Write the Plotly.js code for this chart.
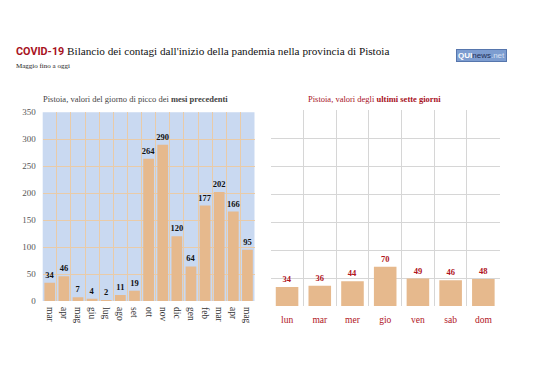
<!DOCTYPE html>
<html>
<head>
<meta charset="utf-8">
<script src="https://cdn.plot.ly/plotly-3.0.1.min.js"></script>
<style>html,body{margin:0;padding:0;background:#fff;}#chart{width:538px;height:380px;}</style>
</head>
<body>
<div id="chart"></div>
<script>
const monthLabels = ["mar","apr","mag","giu","lug","ago","set","ott","nov","dic","gen","feb","mar ","apr ","mag "];
const monthPeaks = [34,46,7,4,2,11,19,264,290,120,64,177,202,166,95];
const dayLabels = ["lun","mar","mer","gio","ven","sab","dom"];
const dayValues = [34,36,44,70,49,46,48];

const serif = "Liberation Serif, DejaVu Serif, serif";
const barColor = "#e6b98d";

const traces = [
  {
    type: "bar", x: monthLabels, y: monthPeaks, xaxis: "x", yaxis: "y",
    marker: {color: barColor}, width: 0.76,
    text: monthPeaks.map(String), textposition: "outside", cliponaxis: false, constraintext: "none",
    textfont: {family: serif, size: 8.5, color: "#111", weight: "bold"}, hoverinfo: "skip"
  },
  {
    type: "bar", x: dayLabels, y: dayValues, xaxis: "x2", yaxis: "y2",
    marker: {color: barColor}, width: 0.69,
    text: dayValues.map(String), textposition: "outside", cliponaxis: false, constraintext: "none",
    textfont: {family: serif, size: 8.5, color: "#b0141c", weight: "bold"}, hoverinfo: "skip"
  }
];

function py(px){ return 1 - px/380; }

const layout = {
  width: 538, height: 380,
  margin: {l:0, r:0, t:0, b:0},
  paper_bgcolor: "#ffffff",
  plot_bgcolor: "#ffffff",
  showlegend: false,
  bargap: 0.2,
  font: {family: serif, size: 8, color: "#444"},
  xaxis: {
    domain: [42.7/538, 254.5/538], anchor: "y", type: "category",
    tickson: "boundaries", showgrid: true, gridcolor: "#e9cba8", gridwidth: 1,
    tickangle: 90, ticks: "", ticklabelstandoff: 5, tickfont: {family: serif, size: 9.5, color: "#333"},
    showline: false, zeroline: false, fixedrange: true
  },
  yaxis: {
    domain: [py(301), py(112.3)], anchor: "x", range: [0, 350], dtick: 50,
    showgrid: true, gridcolor: "#e9cba8", gridwidth: 1, zeroline: false,
    ticks: "", ticklabelstandoff: 6, tickfont: {family: serif, size: 9, color: "#555"},
    showline: false, fixedrange: true
  },
  xaxis2: {
    domain: [270.7/538, 499.7/538], anchor: "y2", type: "category",
    tickson: "boundaries", showgrid: true, gridcolor: "#d6d6d6", gridwidth: 1,
    ticks: "", ticklabelstandoff: 6, tickfont: {family: serif, size: 9.5, color: "#b0141c"},
    showline: false, zeroline: false, fixedrange: true
  },
  yaxis2: {
    domain: [py(306), py(110)], anchor: "x2", range: [0, 350], dtick: 50,
    showgrid: true, gridcolor: "#d6d6d6", gridwidth: 1, zeroline: false,
    showticklabels: false, ticks: "", showline: false, fixedrange: true
  },
  shapes: [
    {type: "rect", xref: "x domain", yref: "y domain", x0: 0, x1: 1, y0: 0, y1: 1,
     fillcolor: "#c9d9f1", line: {width: 0}, layer: "below"}
  ],
  annotations: [
    {xref: "paper", yref: "paper", x: 14/538, y: py(52), xanchor: "left", yanchor: "middle",
     showarrow: false,
     text: "<span style=\"font-family:Roboto, sans-serif;font-weight:bold;color:#a8121e;font-size:10.8px\">COVID-19</span> Bilancio dei contagi dall'inizio della pandemia nella provincia di Pistoia",
     font: {family: serif, size: 11.2, color: "#111"}},
    {xref: "paper", yref: "paper", x: 14/538, y: py(66), xanchor: "left", yanchor: "middle",
     showarrow: false, text: "Maggio fino a oggi",
     font: {family: serif, size: 7, color: "#222"}},
    {xref: "paper", yref: "paper", x: 135/538, y: py(99), xanchor: "center", yanchor: "middle",
     showarrow: false, text: "Pistoia, valori del giorno di picco dei <b>mesi precedenti</b>",
     font: {family: serif, size: 8.5, color: "#444"}},
    {xref: "paper", yref: "paper", x: 374/538, y: py(99), xanchor: "center", yanchor: "middle",
     showarrow: false, text: "Pistoia, valori degli <b>ultimi sette giorni</b>",
     font: {family: serif, size: 8.5, color: "#a8121e"}},
    {xref: "paper", yref: "paper", x: 481/538, y: py(55), xanchor: "center", yanchor: "middle",
     showarrow: false, bgcolor: "#7d9dd0", bordercolor: "#5676ad", borderwidth: 1, borderpad: 1,
     text: "<b>QUI</b><span style=\"color:#1f2f55\">news</span><span style=\"color:#d5e0f2\">.net</span>",
     font: {family: "Liberation Sans, Arial, sans-serif", size: 8, color: "#ffffff"}}
  ]
};

Plotly.newPlot("chart", traces, layout, {displayModeBar: false, staticPlot: true});
</script>
</body>
</html>
